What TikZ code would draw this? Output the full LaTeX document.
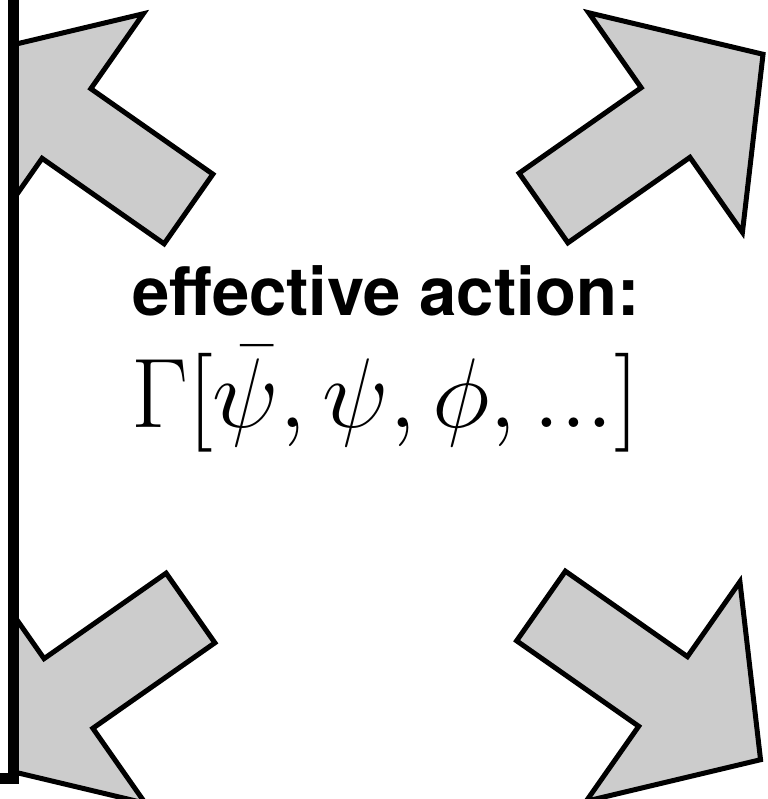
\RequirePackage{fix-cm}
\documentclass[tikz,border=0pt]{standalone}
\usepackage{amsmath}
\usepackage{fontspec}
\newfontfamily\headfont{TeX Gyre Heros}
\usepackage{tikz}
\definecolor{arrowgray}{HTML}{CCCCCC}
\tikzset{
  arrowstroke/.style={fill=arrowgray, draw=black, line width=5pt, line join=miter},
  bigarrow/.pic={\draw[arrowstroke] (0,-42.5) -- (149,-42.5) -- (149,-134) -- (268,0) -- (149,134) -- (149,42.5) -- (0,42.5) -- cycle;}
}

\begin{document}
\begin{tikzpicture}[x=1pt, y=1pt, every node/.style={inner sep=0pt, anchor=base west}]
\useasboundingbox (0,0) rectangle (767,799);
% four big arrows, cut at the wall on the left
\begin{scope}
\clip (13,-10) rectangle (790,810);
\pic[rotate=145] at (188.5,590) {bigarrow};
\pic[rotate=35] at (543.5,591) {bigarrow};
\pic[rotate=215] at (190.5,191) {bigarrow};
\pic[rotate=-35] at (541,193) {bigarrow};
\end{scope}
% the wall
\draw[line width=11pt] (13,815) -- (13,20.5) -- (-10,20.5);
\node (title) at (132,483) {\headfont\bfseries\fontsize{67}{72}\selectfont effective action:};
\node (formula) at (131,371) {\fontsize{99}{104}\selectfont $\Gamma[\bar{\psi},\psi,\phi,...]$};
\end{tikzpicture}
\end{document}
